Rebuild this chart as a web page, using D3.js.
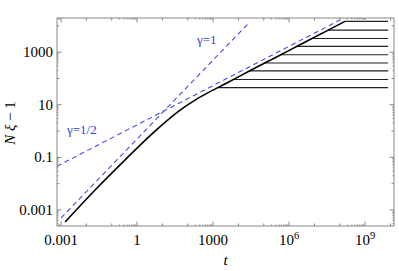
<!DOCTYPE html>
<html>
<head>
<meta charset="utf-8">
<script src="https://cdn.jsdelivr.net/npm/d3@7"></script>
<style>
body{margin:0;background:#fff;}
</style>
</head>
<body>
<div id="canvas" style="width:399px;height:271px"></div>
<script>
// main curve (black)
var mainT = [1.45e-3, 0.022, 0.33, 3.2, 8.1, 50, 195, 760, 3200, 3.2e4, 3.2e5, 3.2e6, 3.2e7, 1.6e8];
var mainY = [3.5e-4, 5.75e-3, 0.079, 0.66, 1.48, 6.3, 15.1, 31.6, 64.6, 209, 660, 2090, 6600, 14800];

// saturation plateaus
var plateauLevel = [45, 91, 195, 390, 795, 1660, 3310, 6920, 14800];
var plateauStart = [1480, 6000, 2.75e4, 1.1e5, 4.6e5, 2.0e6, 7.9e6, 3.5e7, 1.6e8];
var plateauEnd = 8.1e9;

// dashed guide lines
var gamma1T = [1e-3, 2.8e4],     gamma1Y = [5.0e-4, 1.4e4];
var gammaHalfT = [6.9e-4, 1.05e8], gammaHalfY = [0.046, 1.7e4];

var xTicks = [1e-3, 1, 1e3, 1e6, 1e9];
var xTickLabels = ['0.001', '1', '1000', '10^6', '10^9'];
var yTicks = [1e-3, 0.1, 10, 1000];
var yTickLabels = ['0.001', '0.1', '10', '1000'];

var margin = {t:18, r:5, b:45, l:57};
var W = 399, H = 271;
var serif = '"Liberation Serif","Times New Roman","DejaVu Serif",serif';

var svg = d3.select('#canvas').append('svg')
    .attr('width', W).attr('height', H)
    .style('font-family', serif);

var x = d3.scaleLog().domain([Math.pow(10,-3.16), Math.pow(10,10.14)]).range([margin.l, W-margin.r]);
var y = d3.scaleLog().domain([Math.pow(10,-3.61), Math.pow(10,4.3)]).range([H-margin.b, margin.t]);

var line = d3.line().x(function(d){return x(d[0]);}).y(function(d){return y(d[1]);});

var blue = '#4848f2';

// dashed lines
svg.append('path').attr('d', line(d3.zip(gamma1T, gamma1Y)))
    .style('fill','none').style('stroke',blue).style('stroke-width','1.1px')
    .style('stroke-dasharray','5,3.5');
svg.append('path').attr('d', line(d3.zip(gammaHalfT, gammaHalfY)))
    .style('fill','none').style('stroke',blue).style('stroke-width','1.1px')
    .style('stroke-dasharray','5,3.5');

// plateaus
plateauLevel.forEach(function(v,i){
    svg.append('path').attr('d', line([[plateauStart[i], v],[plateauEnd, v]]))
        .style('fill','none').style('stroke','#222').style('stroke-width','1.1px');
});

// main curve
svg.append('path').attr('d', line.curve(d3.curveMonotoneX)(d3.zip(mainT, mainY)))
    .style('fill','none').style('stroke','#000').style('stroke-width','1.6px');

// frame
var x0 = margin.l, x1 = W-margin.r, y0 = margin.t, y1 = H-margin.b;
svg.append('rect').attr('x',x0).attr('y',y0).attr('width',x1-x0).attr('height',y1-y0)
    .style('fill','none').style('stroke','#888').style('stroke-width','1px');

function tickSet(majors){
    var out = [];
    var lo = Math.round(Math.log10(majors[0]))-1, hi = Math.round(Math.log10(majors[majors.length-1]))+2;
    for(var e = lo; e <= hi; e++){
        var isMajor = majors.some(function(m){return Math.abs(Math.log10(m)-e) < 1e-6;});
        out.push({v:Math.pow(10,e), len:isMajor?4.5:2.5});
        var nextMajor = majors.some(function(m){return Math.abs(Math.log10(m)-(e+1)) < 1e-6;});
        if(nextMajor){
            for(var k = 2; k <= 9; k++) out.push({v:k*Math.pow(10,e), len:1.5});
        }
    }
    return out;
}

var xt = tickSet(xTicks).filter(function(d){var p=x(d.v); return p>x0+0.5 && p<x1-0.5;});
var yt = tickSet(yTicks).filter(function(d){var p=y(d.v); return p>y0+0.5 && p<y1-0.5;});

xt.forEach(function(d){
    var p = x(d.v);
    svg.append('line').attr('x1',p).attr('x2',p).attr('y1',y1).attr('y2',y1-d.len).style('stroke','#888');
    svg.append('line').attr('x1',p).attr('x2',p).attr('y1',y0).attr('y2',y0+d.len).style('stroke','#888');
});
yt.forEach(function(d){
    var p = y(d.v);
    svg.append('line').attr('x1',x0).attr('x2',x0+d.len).attr('y1',p).attr('y2',p).style('stroke','#888');
    svg.append('line').attr('x1',x1).attr('x2',x1-d.len).attr('y1',p).attr('y2',p).style('stroke','#888');
});

// tick labels
xTicks.forEach(function(v,i){
    var lab = xTickLabels[i];
    var t = svg.append('text').attr('x',x(v)).attr('y',y1+19)
        .attr('text-anchor','middle').style('font-size','15px');
    if(lab.indexOf('^')>0){
        var parts = lab.split('^');
        t.append('tspan').text(parts[0]);
        t.append('tspan').attr('dy',-6).style('font-size','10.5px').text(parts[1]);
    } else {
        t.text(lab);
    }
});
yTicks.forEach(function(v,i){
    svg.append('text').attr('x',x0-4).attr('y',y(v)).attr('dy','0.33em')
        .attr('text-anchor','end').style('font-size','15px').text(yTickLabels[i]);
});

// axis titles
svg.append('text').attr('x',(x0+x1)/2).attr('y',H-6)
    .attr('text-anchor','middle').style('font-size','15px').style('font-style','italic').text('t');

var yl = svg.append('text').attr('transform','translate(15,'+((y0+y1)/2+1)+') rotate(-90)')
    .attr('text-anchor','middle').style('font-size','15px');
yl.append('tspan').style('font-style','italic').text('N');
yl.append('tspan').style('font-style','italic').text(' ξ');
yl.append('tspan').text(' − 1');

// annotations
svg.append('text').attr('x',197).attr('y',44).style('font-size','13px').style('fill','#3a3ae6').text('γ=1');
svg.append('text').attr('x',67).attr('y',134).style('font-size','13px').style('fill','#3a3ae6').text('γ=1/2');
</script>
</body>
</html>
